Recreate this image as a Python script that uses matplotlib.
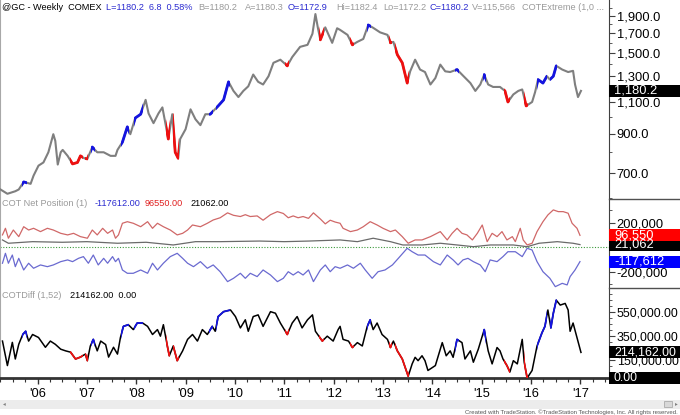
import matplotlib
matplotlib.use("Agg")
import matplotlib.pyplot as plt
from matplotlib.patches import Rectangle
from matplotlib.lines import Line2D
from matplotlib import transforms
from matplotlib.ticker import FixedLocator, FuncFormatter, NullFormatter

plt.rcParams['font.family'] = ['Liberation Sans', 'DejaVu Sans']

# @GC weekly closes (decimal years)
price_t = [2005.25, 2005.39, 2005.55, 2005.62, 2005.72, 2005.86, 2005.92, 2006.02, 2006.12, 2006.22,
           2006.32, 2006.36, 2006.41, 2006.47, 2006.51, 2006.61, 2006.71, 2006.81, 2006.87, 2006.95,
           2007.01, 2007.11, 2007.21, 2007.34, 2007.48, 2007.58, 2007.62, 2007.72, 2007.82, 2007.88,
           2007.98, 2008.09, 2008.19, 2008.25, 2008.35, 2008.45, 2008.53, 2008.59, 2008.65, 2008.73,
           2008.79, 2008.85, 2008.89, 2009.00, 2009.10, 2009.20, 2009.30, 2009.40, 2009.50, 2009.66,
           2009.77, 2009.87, 2009.97, 2010.07, 2010.17, 2010.27, 2010.37, 2010.47, 2010.57, 2010.68,
           2010.78, 2010.92, 2011.06, 2011.16, 2011.32, 2011.47, 2011.57, 2011.63, 2011.68, 2011.73,
           2011.83, 2011.97, 2012.07, 2012.13, 2012.28, 2012.38, 2012.48, 2012.60, 2012.70, 2012.80,
           2012.94, 2013.09, 2013.15, 2013.21, 2013.29, 2013.39, 2013.49, 2013.55, 2013.65, 2013.75,
           2013.85, 2013.96, 2014.06, 2014.16, 2014.26, 2014.36, 2014.50, 2014.62, 2014.77, 2014.87,
           2014.97, 2015.05, 2015.13, 2015.23, 2015.37, 2015.47, 2015.53, 2015.64, 2015.74, 2015.82,
           2015.90, 2016.02, 2016.08, 2016.14, 2016.24, 2016.32, 2016.38, 2016.45, 2016.51, 2016.63,
           2016.75, 2016.85, 2016.89, 2016.95, 2017.01]
price = [632, 615, 625, 632, 663, 655, 690, 735, 750, 800,
         897, 860, 740, 800, 812, 782, 743, 750, 782, 770,
         767, 827, 800, 800, 782, 782, 812, 853, 940, 897,
         994, 1018, 1115, 1023, 962, 1023, 1063, 962, 870, 1018,
         800, 770, 870, 926, 1050, 986, 950, 1018, 1018, 1073,
         1115, 1250, 1180, 1135, 1180, 1215, 1309, 1250, 1229, 1295,
         1410, 1438, 1383, 1462, 1560, 1580, 1695, 1920, 1760, 1631,
         1765, 1600, 1755, 1737, 1683, 1580, 1610, 1640, 1792, 1760,
         1710, 1683, 1600, 1610, 1484, 1410, 1240, 1336, 1438, 1351,
         1330, 1229, 1280, 1394, 1336, 1330, 1351, 1300, 1240, 1180,
         1229, 1309, 1229, 1210, 1210, 1180, 1100, 1154, 1180, 1191,
         1073, 1100, 1170, 1268, 1240, 1295, 1268, 1295, 1383, 1351,
         1330, 1340, 1229, 1135, 1180.2]

# COT net positions (thousands of contracts)
comm_t = [2005.29, 2005.35, 2005.41, 2005.49, 2005.55, 2005.62, 2005.72, 2005.82, 2005.92, 2006.06,
          2006.20, 2006.32, 2006.47, 2006.61, 2006.71, 2006.83, 2006.93, 2007.03, 2007.13, 2007.23,
          2007.34, 2007.42, 2007.52, 2007.58, 2007.64, 2007.72, 2007.82, 2007.94, 2008.09, 2008.23,
          2008.33, 2008.43, 2008.55, 2008.69, 2008.83, 2008.94, 2009.04, 2009.16, 2009.30, 2009.44,
          2009.56, 2009.70, 2009.85, 2009.97, 2010.11, 2010.21, 2010.31, 2010.45, 2010.57, 2010.72,
          2010.86, 2010.98, 2011.08, 2011.18, 2011.28, 2011.38, 2011.49, 2011.59, 2011.73, 2011.83,
          2011.93, 2012.03, 2012.13, 2012.28, 2012.40, 2012.54, 2012.64, 2012.78, 2012.90, 2013.04,
          2013.19, 2013.31, 2013.49, 2013.59, 2013.71, 2013.85, 2014.02, 2014.16, 2014.30, 2014.42,
          2014.52, 2014.62, 2014.72, 2014.83, 2014.97, 2015.07, 2015.17, 2015.31, 2015.43, 2015.53,
          2015.68, 2015.82, 2015.92, 2016.02, 2016.12, 2016.24, 2016.38, 2016.49, 2016.63, 2016.73,
          2016.79, 2016.89, 2016.99]
comm = [-131, -50, -131, -64, -159, -91, -186, -131, -172, -145,
        -159, -145, -118, -104, -118, -91, -77, -131, -64, -145,
        -91, -131, -77, -118, -91, -186, -213, -213, -186, -213,
        -131, -186, -131, -77, -50, -91, -131, -159, -118, -172,
        -145, -200, -281, -254, -213, -254, -213, -240, -186, -227,
        -281, -254, -200, -227, -200, -227, -186, -281, -186, -145,
        -200, -159, -172, -145, -172, -131, -186, -254, -200, -186,
        -145, -91, -9, -37, -64, -64, -118, -145, -64, -104,
        -145, -104, -91, -118, -145, -200, -104, -118, -77, -37,
        -37, -77, -9, -23, -118, -200, -254, -322, -295, -308,
        -240, -186, -117.612]

large_t = [2005.29, 2005.35, 2005.41, 2005.51, 2005.62, 2005.72, 2005.82, 2005.92, 2006.06, 2006.20,
           2006.32, 2006.47, 2006.61, 2006.73, 2006.87, 2007.01, 2007.11, 2007.21, 2007.32, 2007.42,
           2007.52, 2007.58, 2007.64, 2007.72, 2007.82, 2007.94, 2008.09, 2008.23, 2008.33, 2008.43,
           2008.55, 2008.69, 2008.83, 2008.94, 2009.04, 2009.14, 2009.30, 2009.44, 2009.56, 2009.70,
           2009.85, 2009.97, 2010.11, 2010.21, 2010.31, 2010.45, 2010.57, 2010.72, 2010.86, 2010.98,
           2011.08, 2011.18, 2011.28, 2011.38, 2011.49, 2011.59, 2011.73, 2011.83, 2011.93, 2012.03,
           2012.13, 2012.19, 2012.34, 2012.48, 2012.60, 2012.74, 2012.88, 2013.00, 2013.15, 2013.25,
           2013.39, 2013.51, 2013.65, 2013.79, 2013.96, 2014.16, 2014.30, 2014.40, 2014.50, 2014.60,
           2014.70, 2014.81, 2014.91, 2015.01, 2015.11, 2015.21, 2015.31, 2015.41, 2015.51, 2015.62,
           2015.68, 2015.78, 2015.84, 2015.92, 2016.02, 2016.12, 2016.24, 2016.34, 2016.45, 2016.55,
           2016.65, 2016.75, 2016.83, 2016.93, 2016.99]
large = [100, 154, 73, 140, 86, 167, 140, 154, 127, 154,
         140, 113, 100, 113, 86, 73, 140, 100, 154, 113,
         140, 73, 100, 195, 208, 195, 167, 208, 154, 195,
         167, 140, 100, 113, 140, 181, 167, 195, 222, 240,
         280, 260, 250, 265, 250, 255, 220, 265, 290, 275,
         240, 255, 240, 250, 235, 280, 230, 190, 220, 205,
         195, 154, 127, 140, 167, 208, 181, 154, 127, 140,
         86, 32, 59, 59, 86, 127, 59, 113, 154, 113,
         100, 59, 113, 181, 45, 113, 86, 127, 59, 86,
         45, 154, 59, 18, 32, 127, 208, 263, 304, 290,
         290, 277, 195, 154, 96.55]

small_t = [2005.29, 2005.41, 2005.90, 2006.50, 2007.00, 2007.62, 2008.20, 2008.75, 2009.20, 2009.70,
           2010.50, 2011.00, 2011.50, 2012.13, 2012.48, 2012.80, 2013.15, 2013.40, 2013.80, 2014.16,
           2014.50, 2014.83, 2015.17, 2015.64, 2015.92, 2016.16, 2016.53, 2016.85, 2016.99]
small = [59, 32, 45, 40, 45, 32, 40, 18, 45, 45,
         50, 45, 50, 59, 45, 73, 45, 18, 18, 32,
         18, 4, 18, 18, 4, 32, 45, 32, 21.062]

# COTDiff (1,52), thousands
diff_t = [2005.29, 2005.39, 2005.49, 2005.55, 2005.62, 2005.70, 2005.76, 2005.82, 2005.90, 2006.02,
          2006.16, 2006.26, 2006.36, 2006.47, 2006.57, 2006.67, 2006.77, 2006.87, 2006.97, 2007.01,
          2007.07, 2007.13, 2007.21, 2007.28, 2007.38, 2007.44, 2007.54, 2007.62, 2007.68, 2007.74,
          2007.84, 2007.94, 2008.02, 2008.13, 2008.23, 2008.33, 2008.43, 2008.49, 2008.55, 2008.63,
          2008.67, 2008.75, 2008.83, 2008.94, 2009.04, 2009.14, 2009.24, 2009.34, 2009.44, 2009.54,
          2009.60, 2009.66, 2009.77, 2009.91, 2010.01, 2010.11, 2010.21, 2010.27, 2010.37, 2010.47,
          2010.57, 2010.72, 2010.82, 2010.92, 2011.06, 2011.16, 2011.26, 2011.36, 2011.47, 2011.57,
          2011.63, 2011.77, 2011.87, 2011.99, 2012.09, 2012.13, 2012.19, 2012.30, 2012.38, 2012.48,
          2012.58, 2012.68, 2012.74, 2012.80, 2012.88, 2012.98, 2013.09, 2013.15, 2013.21, 2013.29,
          2013.39, 2013.51, 2013.59, 2013.65, 2013.71, 2013.79, 2013.85, 2013.91, 2014.06, 2014.20,
          2014.28, 2014.36, 2014.42, 2014.50, 2014.60, 2014.66, 2014.77, 2014.83, 2014.93, 2015.05,
          2015.13, 2015.21, 2015.31, 2015.37, 2015.43, 2015.51, 2015.57, 2015.64, 2015.72, 2015.82,
          2015.86, 2015.92, 2016.02, 2016.12, 2016.22, 2016.28, 2016.34, 2016.40, 2016.45, 2016.51,
          2016.59, 2016.69, 2016.75, 2016.79, 2016.85, 2016.93, 2017.01]
diff = [309, 104, 298, 159, 282, 364, 391, 309, 364, 339,
        257, 309, 282, 241, 227, 216, 159, 175, 200, 145,
        268, 323, 227, 309, 280, 175, 257, 200, 339, 432,
        446, 405, 460, 460, 432, 364, 405, 350, 446, 268,
        186, 268, 145, 227, 323, 364, 309, 405, 364, 432,
        391, 514, 555, 569, 514, 419, 487, 391, 514, 528,
        432, 555, 542, 460, 364, 460, 514, 419, 487, 528,
        391, 309, 350, 309, 405, 432, 323, 309, 255, 296,
        268, 432, 487, 405, 460, 364, 323, 255, 309, 227,
        159, 15, 118, 173, 145, 186, 145, 63, 104, 296,
        186, 227, 173, 323, 296, 159, 227, 132, 241, 405,
        227, 118, 255, 227, 159, 104, 50, 145, 118, 323,
        132, 0, 63, 268, 378, 432, 569, 419, 542, 651,
        610, 624, 569, 391, 460, 337, 214.162]

# COTExtreme signal periods (blue = high extreme, red = low extreme)
blue_periods = [(2005.68, 2005.79), (2007.08, 2007.17), (2007.70, 2007.86), (2007.96, 2008.13),
                (2009.48, 2009.56), (2009.62, 2009.90), (2012.67, 2012.76), (2014.46, 2014.53),
                (2015.02, 2015.08), (2016.12, 2016.32), (2016.38, 2016.53)]
red_periods = [(2006.66, 2006.92), (2006.97, 2007.03), (2008.61, 2008.68), (2008.74, 2008.86),
               (2011.02, 2011.09), (2011.71, 2011.80), (2012.33, 2012.42), (2013.12, 2013.18),
               (2013.25, 2013.53), (2015.45, 2015.58), (2015.86, 2015.94)]

years = list(range(2006, 2018))

W, H = 680, 415
fig = plt.figure(figsize=(W / 100, H / 100), dpi=100)
XL = (2005.24, 2017.578)


def panel(top, bottom, fs=9.3):
    ax = fig.add_axes([0, 1 - bottom / H, 609 / W, (bottom - top) / H])
    ax.set_xlim(XL)
    ax.spines['top'].set_visible(False)
    ax.spines['bottom'].set_visible(False)
    ax.spines['left'].set_color('#a8a8a8')
    ax.spines['right'].set_color('#404040')
    ax.yaxis.tick_right()
    ax.tick_params(axis='y', which='both', direction='out', colors='#404040',
                   labelcolor='black', labelsize=fs, pad=1.5)
    ax.tick_params(axis='y', which='major', length=4)
    ax.tick_params(axis='y', which='minor', length=2.5)
    ax.tick_params(axis='x', which='both', bottom=False, labelbottom=False)
    return ax


def signals(ax, t, v, lw):
    bt = transforms.blended_transform_factory(ax.transData, ax.transAxes)
    for periods, col in ((blue_periods, '#1414e0'), (red_periods, '#ee1010')):
        for a, b in periods:
            ln, = ax.plot(t, v, color=col, lw=lw, zorder=4)
            ln.set_clip_path(Rectangle((a, 0), b - a, 1, transform=bt))


def value_box(ax, value, label, face, fs=9.3):
    y = ax.transData.transform((2010, value))[1] / fig.bbox.height
    fig.add_artist(Rectangle((609 / W, y - 6 / H), 71 / W, 12 / H, transform=fig.transFigure,
                             facecolor=face, edgecolor='none', zorder=5))
    fig.text(614 / W, y, label, color='white', fontsize=fs, va='center', ha='left', zorder=6)


# price panel
ax1 = panel(0, 199)
ax1.set_yscale('log')
ax1.set_ylim(595, 2099)
ax1.plot(price_t, price, color='#7f7f7f', lw=1.5, zorder=3)
signals(ax1, price_t, price, 2.0)
ax1.yaxis.set_major_locator(FixedLocator([700, 900, 1100, 1300, 1500, 1700, 1900]))
ax1.yaxis.set_minor_locator(FixedLocator([600, 800, 1000, 1200, 1400, 1600, 1800, 2000]))
ax1.yaxis.set_major_formatter(FuncFormatter(lambda v, p: f"{v:,.1f}"))
ax1.yaxis.set_minor_formatter(NullFormatter())

# COT net position panel
ax2 = panel(199, 288)
ax2.set_ylim(-333000, 393000)
ax2.axhline(0, color='#3c9a3c', lw=0.8, ls=(0, (1, 1.5)))
ax2.plot(small_t, [v * 1000 for v in small], color='#6a6a6a', lw=0.9)
ax2.plot(large_t, [v * 1000 for v in large], color='#d06868', lw=0.9)
ax2.plot(comm_t, [v * 1000 for v in comm], color='#6a6ad0', lw=0.9)
ax2.yaxis.set_major_locator(FixedLocator([-200000, 200000]))
ax2.yaxis.set_minor_locator(FixedLocator([-300000, -100000, 0, 100000, 300000]))
ax2.yaxis.set_major_formatter(FuncFormatter(lambda v, p: f"{v:,.0f}"))

# COTDiff panel
ax3 = panel(288, 378, fs=8.9)
ax3.set_ylim(0, 753000)
dv = [v * 1000 for v in diff]
ax3.plot(diff_t, dv, color='black', lw=1.1, zorder=3)
signals(ax3, diff_t, dv, 1.3)
ax3.yaxis.set_major_locator(FixedLocator([150000, 350000, 550000]))
ax3.yaxis.set_minor_locator(FixedLocator([50000 * k for k in range(1, 15) if k not in (3, 7, 11)]))
ax3.yaxis.set_major_formatter(FuncFormatter(lambda v, p: f"{v:,.2f}"))
ax3.spines['bottom'].set_visible(True)
ax3.spines['bottom'].set_color('#333333')
ax3.spines['bottom'].set_linewidth(2)
ax3.set_xticks(years)
ax3.set_xticklabels(["'" + str(y)[2:] for y in years])
ax3.set_xticks([y + q for y in range(2005, 2018) for q in (0.25, 0.5, 0.75)
                if XL[0] < y + q < XL[1]], minor=True)
ax3.tick_params(axis='x', which='both', bottom=True, labelbottom=True, direction='out',
                colors='#333333', labelcolor='black', labelsize=9.3, pad=3)
ax3.tick_params(axis='x', which='major', length=4, width=1)
ax3.tick_params(axis='x', which='minor', length=3, width=0.8)

# last-value boxes on the right scale
value_box(ax1, price[-1], f"{price[-1]:,.1f}", 'black')
value_box(ax2, small[-1] * 1000, f"{small[-1] * 1000:,.0f}", 'black')
value_box(ax2, large[-1] * 1000, f"{large[-1] * 1000:,.0f}", '#ff0000')
value_box(ax2, comm[-1] * 1000, f"{comm[-1] * 1000:,.0f}", '#0000ff')
value_box(ax3, diff[-1] * 1000, f"{diff[-1] * 1000:,.2f}", 'black', fs=8.9)
value_box(ax3, 0, "0.00", 'black', fs=8.9)

# separators in the scale column
for yy in (199, 288):
    fig.add_artist(Line2D([609 / W, 1], [1 - yy / H] * 2, transform=fig.transFigure,
                          color='#505050', lw=1))

# header and panel titles
blue_t, grey_t = '#2b2bd0', '#9a9a9a'
header = [(2, "@GC - Weekly  COMEX", 'black'), (106, "L=1180.2  6.8  0.58%", blue_t),
          (198, "B=1180.2", grey_t), (245, "A=1180.3", grey_t), (288, "O=1172.9", blue_t),
          (336, "Hi=1182.4", grey_t), (383, "Lo=1172.2", grey_t), (430, "C=1180.2", blue_t),
          (472, "V=115,566", grey_t), (522, "COTExtreme (1,0 ...", grey_t)]
for x, s, c in header:
    fig.text(x / W, 1 - 7 / H, s, color=c, fontsize=6.6, va='center', ha='left')

titles = [(2, 203, "COT Net Position (1)", grey_t), (95, 203, "-117612.00", blue_t),
          (145, 203, "96550.00", '#e02020'), (190, 203, "21062.00", 'black'),
          (2, 295, "COTDiff (1,52)", grey_t), (70, 295, "214162.00  0.00", 'black')]
for x, y, s, c in titles:
    fig.text(x / W, 1 - y / H, s, color=c, fontsize=6.6, va='center', ha='left')

# scroll strip and footer
fig.add_artist(Rectangle((0, 1 - 409 / H), 1, 9 / H, transform=fig.transFigure,
                         facecolor='#ececec', edgecolor='none', zorder=1))
fig.add_artist(Rectangle((664 / W, 1 - 407 / H), 8 / W, 6 / H, transform=fig.transFigure,
                         facecolor='#d8d8d8', edgecolor='#a0a0a0', lw=0.5, zorder=2))
fig.text(3 / W, 1 - 404 / H, "◂", fontsize=4, color='#808080', va='center',
         family=['DejaVu Sans'])
fig.text(675 / W, 1 - 404 / H, "▸", fontsize=4, color='#808080', va='center',
         family=['DejaVu Sans'])
fig.text(678 / W, 1 - 412 / H,
         "Created with TradeStation. ©TradeStation Technologies, Inc. All rights reserved.",
         fontsize=4.3, color='#555555', ha='right', va='center')

fig.savefig('out.png', dpi=100)
